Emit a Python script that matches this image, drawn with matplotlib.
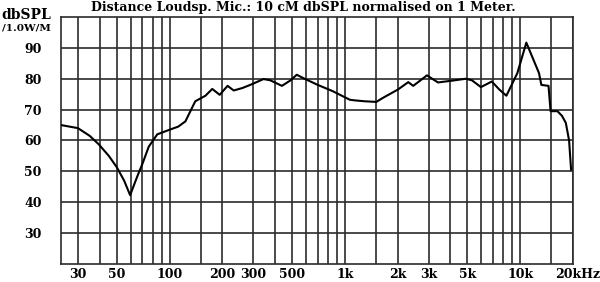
import numpy as np
import matplotlib
matplotlib.use("Agg")
import matplotlib.pyplot as plt
from matplotlib.transforms import ScaledTranslation

# frequency response (Hz, dB SPL)
freq = [24, 30, 35, 39.5, 45, 50, 55, 59.5, 65.5, 70, 76, 85, 100, 112, 123, 140, 160,
        175, 193, 214, 232, 260, 288, 343, 375, 437, 490, 531, 579, 700, 850, 1066,
        1137, 1300, 1510, 1646, 2005, 2297, 2452, 2700, 2937, 3393, 4106, 4890, 5300,
        5967, 6884, 7600, 8336, 9625, 10834, 12800, 13200, 14500, 14900, 16300,
        17300, 18200, 19000, 19500]
spl = [65, 64, 61.5, 58.7, 55, 51.3, 47, 42.3, 48.5, 52.5, 58, 62, 63.5, 64.5, 66.2, 72.7, 74.5,
       76.7, 74.8, 77.7, 76.2, 77, 78, 79.9, 79.5, 77.7, 79.5, 81.3, 80.2, 78, 76, 73.2,
       73, 72.7, 72.5, 73.8, 76.5, 78.9, 77.7, 79.5, 81.1, 78.8, 79.4, 80, 79.5,
       77.3, 79.1, 76.5, 74.5, 81.8, 91.7, 81.8, 78, 77.7, 69.5, 69.5,
       68, 65.7, 60, 50.6]

grid_freqs = [30, 40, 50, 60, 70, 80, 90, 100, 150, 200, 300, 400, 500, 600, 700, 800, 900,
              1000, 1500, 2000, 3000, 4000, 5000, 6000, 7000, 8000, 9000, 10000, 15000, 20000]
label_freqs = {30: "30", 50: "50", 100: "100", 200: "200", 300: "300", 500: "500",
               1000: "1k", 2000: "2k", 3000: "3k", 5000: "5k", 10000: "10k", 20000: "20kHz"}
db_ticks = [30, 40, 50, 60, 70, 80, 90]

fig = plt.figure(figsize=(6, 2.82), dpi=100)
ax = fig.add_axes([61/600, 18/282, 512/600, 247/282])
font = dict(family="DejaVu Serif", weight="bold")
grid_col = "#2b2b2b"

ax.set_xscale("log")
ax.set_xlim(24, 20000)
ax.set_ylim(20, 100)
ax.minorticks_off()

for f in grid_freqs:
    ax.axvline(f, color=grid_col, lw=1.2, zorder=1)
for d in db_ticks:
    ax.axhline(d, color=grid_col, lw=1.2, zorder=1)

ax.plot(freq, spl, color="black", lw=1.5, zorder=3)

ax.set_xticks(grid_freqs)
ax.set_xticklabels([label_freqs.get(f, "") for f in grid_freqs], fontsize=9, **font)
ax.set_yticks(db_ticks)
ax.set_yticklabels([str(d) for d in db_ticks], fontsize=9, **font)
ax.tick_params(length=0, pad=14, axis="y")
ax.tick_params(length=0, pad=3, axis="x")
last = ax.get_xticklabels()[-1]
last.set_transform(last.get_transform() + ScaledTranslation(5/100, 0, fig.dpi_scale_trans))

for s in ax.spines.values():
    s.set_color(grid_col)
    s.set_linewidth(1.2)

fig.text(0.505, 1 - 1.5/282, "Distance Loudsp. Mic.: 10 cM dbSPL normalised on 1 Meter.",
         ha="center", va="top", fontsize=9, **font)
fig.text(26/600, 1 - 15/282, "dbSPL", ha="center", va="center", fontsize=10, **font)
fig.text(26/600, 1 - 28/282, "/1.0W/M", ha="center", va="center", fontsize=7.5, **font)

fig.savefig("out.png", dpi=100)
